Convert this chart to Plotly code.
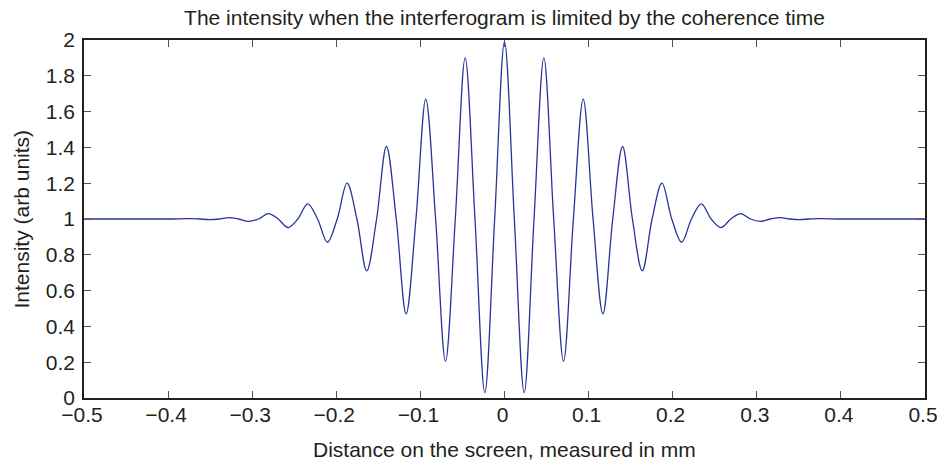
import plotly.graph_objects as go

# Curve: extrema and the y=1 crossings between them
x_mm = [-0.5, -0.45, -0.40, -0.3744, -0.3627, -0.351, -0.3393, -0.3276, -0.3159, -0.3042,
        -0.2925, -0.2808, -0.2691, -0.2574, -0.2457, -0.234, -0.2223, -0.2106, -0.1989,
        -0.1872, -0.1755, -0.1638, -0.1521, -0.1404, -0.1287, -0.117, -0.1053, -0.0936,
        -0.0819, -0.0702, -0.0585, -0.0468, -0.0351, -0.0234, -0.0117,
        0.0,
        0.0117, 0.0234, 0.0351, 0.0468, 0.0585, 0.0702, 0.0819, 0.0936, 0.1053, 0.117,
        0.1287, 0.1404, 0.1521, 0.1638, 0.1755, 0.1872, 0.1989, 0.2106, 0.2223, 0.234,
        0.2457, 0.2574, 0.2691, 0.2808, 0.2925, 0.3042, 0.3159, 0.3276, 0.3393, 0.351,
        0.3627, 0.3744, 0.40, 0.45, 0.5]
intensity = [1.0, 1.0, 1.0, 1.002, 1.0, 0.997, 1.0, 1.008, 1.0, 0.987,
             1.0, 1.03, 1.0, 0.952, 1.0, 1.085, 1.0, 0.87, 1.0,
             1.20, 1.0, 0.71, 1.0, 1.405, 1.0, 0.47, 1.0, 1.67,
             1.0, 0.205, 1.0, 1.90, 1.0, 0.03, 1.0,
             1.99,
             1.0, 0.03, 1.0, 1.90, 1.0, 0.205, 1.0, 1.67, 1.0, 0.47,
             1.0, 1.405, 1.0, 0.71, 1.0, 1.20, 1.0, 0.87, 1.0, 1.085,
             1.0, 0.952, 1.0, 1.03, 1.0, 0.987, 1.0, 1.008, 1.0, 0.997,
             1.0, 1.002, 1.0, 1.0, 1.0]

x_ticks = [-0.5, -0.4, -0.3, -0.2, -0.1, 0, 0.1, 0.2, 0.3, 0.4, 0.5]
x_tick_text = ["\u22120.5", "\u22120.4", "\u22120.3", "\u22120.2", "\u22120.1", "0",
               "0.1", "0.2", "0.3", "0.4", "0.5"]
y_ticks = [0, 0.2, 0.4, 0.6, 0.8, 1, 1.2, 1.4, 1.6, 1.8, 2]
y_tick_text = ["0", "0.2", "0.4", "0.6", "0.8", "1", "1.2", "1.4", "1.6", "1.8", "2"]

FONT = "Liberation Sans, Arial, Helvetica, sans-serif"
TXT = "#231f20"
FS = 21

fig = go.Figure()
fig.add_trace(go.Scatter(
    x=x_mm, y=intensity, mode="lines",
    line=dict(color="#27359a", width=1.3, shape="spline", smoothing=1.0),
    hoverinfo="x+y", showlegend=False,
))

axis_common = dict(
    showline=True, linecolor="#231f20", linewidth=1.6, mirror="ticks",
    ticks="inside", ticklen=7, tickwidth=1, tickcolor="#555555",
    showgrid=False, zeroline=False, automargin=False,
    ticklabeloverflow="allow",
    tickfont=dict(family=FONT, size=FS, color=TXT),
)

fig.update_layout(
    width=937, height=460,
    margin=dict(l=84, r=12, t=40, b=62),
    paper_bgcolor="white", plot_bgcolor="white",
    font=dict(family=FONT, color=TXT),
    title=dict(text="The intensity when the interferogram is limited by the coherence time",
               x=0.5, xref="paper", xanchor="center",
               y=1 - 18 / 460, yref="container", yanchor="middle",
               font=dict(family=FONT, size=FS, color=TXT)),
    xaxis=dict(range=[-0.5, 0.5], tickvals=x_ticks, ticktext=x_tick_text,
               ticklabelstandoff=-3, ticklabelshift=-2, **axis_common),
    yaxis=dict(range=[0, 2], tickvals=y_ticks, ticktext=y_tick_text,
               ticklabelstandoff=3, **axis_common),
    annotations=[
        dict(text="Distance on the screen, measured in mm", xref="paper", yref="paper",
             x=0.5, y=(398 - 449) / 358, xanchor="center", yanchor="middle",
             showarrow=False, font=dict(family=FONT, size=FS, color=TXT)),
        dict(text="Intensity (arb units)", xref="paper", yref="paper",
             x=(20.5 - 84) / 841, y=0.5, xanchor="center", yanchor="middle",
             textangle=-90, showarrow=False, font=dict(family=FONT, size=FS, color=TXT)),
    ],
)

fig.write_html("out.html", config={"displayModeBar": False})

# remove the browser's default page margin so the figure sits at the window's corner
with open("out.html", "r", encoding="utf-8") as f:
    html = f.read()
html = html.replace("<body>", '<body style="margin:0;padding:0;overflow:hidden">', 1)
html = html.replace("<head>", "<head><style>html,body{margin:0;padding:0;}</style>", 1)
with open("out.html", "w", encoding="utf-8") as f:
    f.write(html)
